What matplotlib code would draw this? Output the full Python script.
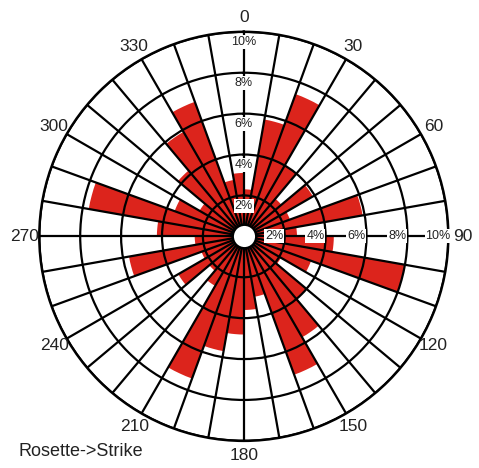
import numpy as np
import matplotlib
matplotlib.use('Agg')
import matplotlib.pyplot as plt

plt.rcParams['font.family'] = ['Liberation Sans', 'DejaVu Sans']

# 10-degree strike bins, clockwise from north (percent)
bin_start = np.arange(0, 360, 10)
freq = [2.3, 5.8, 7.4, 4.0, 2.4, 3.9, 2.4, 5.9, 2.6,    # 0-90
        4.4, 8.0, 3.5, 2.1, 4.0, 5.7, 7.2, 3.0, 3.6,    # 90-180
        4.8, 5.7, 7.4, 2.8, 2.2, 3.7, 2.2, 5.7, 2.4,    # 180-270
        4.25, 7.7, 3.6, 2.5, 4.2, 5.9, 7.0, 2.8, 3.1]   # 270-360
ring_vals = [2, 4, 6, 8, 10]
ring_labels = ['2%', '4%', '6%', '8%', '10%']
angle_labels = [str(d) if d % 30 == 0 else '' for d in bin_start]

fig = plt.figure(figsize=(4.79, 4.68), dpi=100)
ax = fig.add_axes([0.081, 0.058, 0.856, 0.874], projection='polar')
ax.set_theta_zero_location('N')
ax.set_theta_direction(-1)

theta = np.deg2rad(bin_start + 5)
ax.bar(theta, freq, width=np.deg2rad(10), bottom=0, color='#dc241c',
       edgecolor='none', zorder=2)

ax.set_ylim(0, 10)
ax.set_yticks(ring_vals)
ax.set_yticklabels([])
ax.set_xticks(np.deg2rad(bin_start))
ax.set_xticklabels(angle_labels, fontsize=12.5, color='#222222')
ax.tick_params(axis='x', pad=0)
ax.set_axisbelow(False)
ax.grid(True, color='black', lw=1.6)
ax.spines['polar'].set_linewidth(1.8)

# radial labels on the north and east spokes
for v, lab in zip(ring_vals, ring_labels):
    for ang in (0, 90):
        ax.text(np.deg2rad(ang), v - 0.5, lab, fontsize=9, ha='center',
                va='center', color='#222222', zorder=5,
                bbox=dict(facecolor='white', edgecolor='none', pad=0.6))

# white hole in the centre
ax.plot(0, 0, 'o', ms=17, mfc='white', mec='black', mew=1.8, zorder=6,
        clip_on=False)

fig.text(18 / 479, 1 - 452 / 468, 'Rosette->Strike', fontsize=13,
         va='center', ha='left', color='#222222')

fig.savefig('out.png', dpi=100)
